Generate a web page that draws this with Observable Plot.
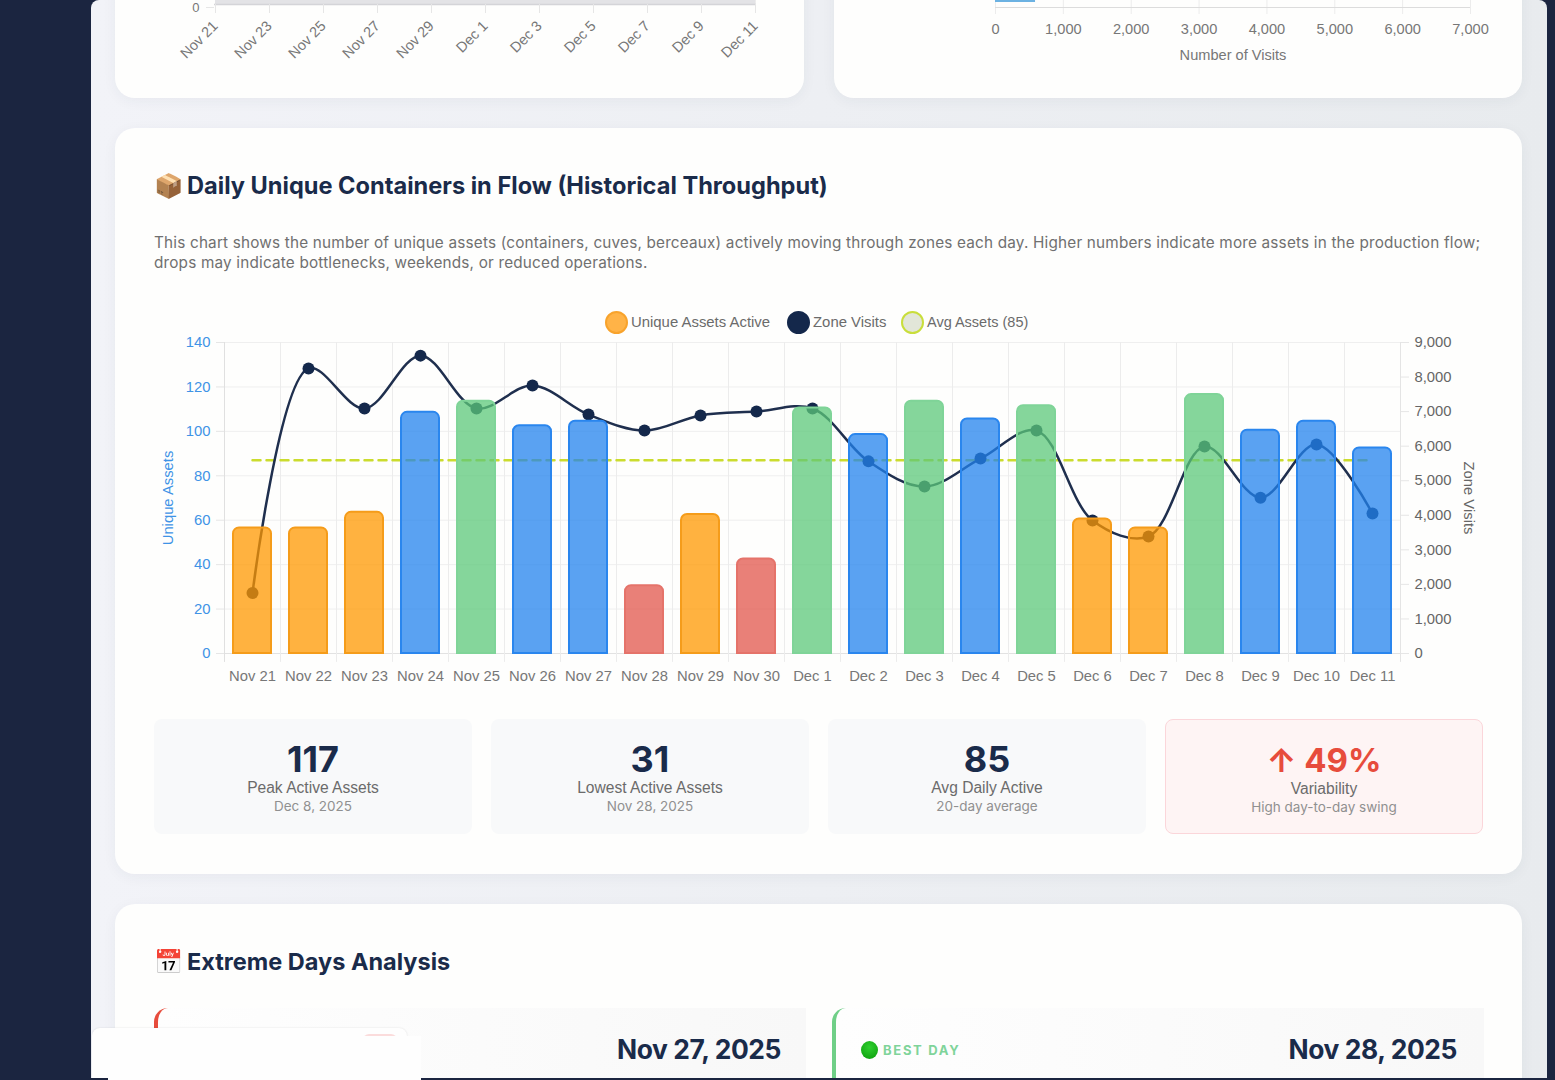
<!DOCTYPE html>
<html><head><meta charset="utf-8">
<script src="https://cdn.jsdelivr.net/npm/d3@7"></script>
<script src="https://cdn.jsdelivr.net/npm/@observablehq/plot@0.6"></script>
<style>
html,body{margin:0;padding:0;width:1555px;height:1080px;overflow:hidden;background:#1b2540;}
*{box-sizing:border-box}
.abs{position:absolute}
#panel{left:91px;top:0;width:1456px;height:1078px;background:linear-gradient(90deg,#f2f3f8,#e8ebee);border-radius:8px 8px 0 0;}
.card{position:absolute;background:#fefefd;border-radius:20px;box-shadow:0 3px 14px rgba(40,50,70,.05)}
.h{position:absolute;font-family:Inter,sans-serif;font-weight:700;color:#1a2b4a;white-space:nowrap}
.h .em{display:inline-block;width:33px}
.desc{position:absolute;left:154px;top:233px;font:15.3px/20px Inter,sans-serif;letter-spacing:.19px;color:#707070;white-space:nowrap}
.leg{position:absolute;font:14.9px/18px "Liberation Sans",sans-serif;color:#6b6b6b;white-space:nowrap;top:313px}
.sw{position:absolute;width:23px;height:23px;border-radius:50%;top:311px;border:2px solid}
.kpi{position:absolute;top:719px;height:115px;width:318px;background:#f8f9fa;border-radius:8px;text-align:center;font-family:Inter,sans-serif}
.kpi .v{position:absolute;width:100%;top:19px;font-size:36px;line-height:42px;font-weight:700;color:#1a2b4a}
.kpi .l{position:absolute;width:100%;top:60px;font:15.6px/18px "Liberation Sans",sans-serif;color:#6b6b6b}
.kpi .s{position:absolute;width:100%;top:79px;font:13.5px/16px Inter,sans-serif;color:#909090}
#alert{background:#fef4f4;border:1px solid #fbd6da}
#alert .v{color:#e74c3c;font-size:33px}
.ex{position:absolute;top:1008px;height:72px;width:652px;background:linear-gradient(90deg,#fefefe,#f8f8f8);border-radius:14px 0 0 0}
.date{position:absolute;top:1031px;font:700 26.4px/36px Inter,sans-serif;color:#1a2b4a;white-space:nowrap;letter-spacing:-.4px}
svg{overflow:visible}
</style></head><body>
<div id="panel" class="abs"></div>
<div class="card" style="left:115px;top:-60px;width:689px;height:158px"></div>
<div class="card" style="left:834px;top:-60px;width:688px;height:158px"></div>
<div class="card" style="left:115px;top:128px;width:1407px;height:746px"></div>
<div class="card" style="left:115px;top:904px;width:1407px;height:200px"></div>

<div id="topLeft" class="abs" style="left:180px;top:-36px"></div>
<div id="topRight" class="abs" style="left:960px;top:-13px"></div>

<div class="h" style="left:154px;top:171px;font-size:23.6px;line-height:30px"><span class="em">📦</span><span>Daily Unique Containers in Flow (Historical Throughput)</span></div>
<div class="desc">This chart shows the number of unique assets (containers, cuves, berceaux) actively moving through zones each day. Higher numbers indicate more assets in the production flow;<br>drops may indicate bottlenecks, weekends, or reduced operations.</div>

<div class="sw" style="left:604.5px;background:#ffb347;border-color:#f8a32c"></div><div class="leg" style="left:631px">Unique Assets Active</div>
<div class="sw" style="left:786.5px;background:#14284b;border-color:#14284b"></div><div class="leg" style="left:813px">Zone Visits</div>
<div class="sw" style="left:900.5px;background:#e2e6d8;border-color:#c9de3b"></div><div class="leg" style="left:927px;font-size:14.5px">Avg Assets (85)</div>

<div id="main" class="abs" style="left:150px;top:330px"></div>

<div class="kpi" style="left:154px"><div class="v">117</div><div class="l">Peak Active Assets</div><div class="s">Dec 8, 2025</div></div>
<div class="kpi" style="left:491px"><div class="v">31</div><div class="l">Lowest Active Assets</div><div class="s">Nov 28, 2025</div></div>
<div class="kpi" style="left:828px"><div class="v">85</div><div class="l">Avg Daily Active</div><div class="s">20-day average</div></div>
<div class="kpi" id="alert" style="left:1165px"><div class="v">↑ 49%</div><div class="l">Variability</div><div class="s">High day-to-day swing</div></div>

<div class="h" style="left:154px;top:947px;font-size:23.5px;line-height:30px"><span class="em">📅</span><span>Extreme Days Analysis</span></div>

<div class="ex" style="left:154px;border-left:4px solid #e74c3c;width:652px"></div>
<div class="ex" style="left:832px;border-left:4px solid #6fcf87"></div>
<div class="date" style="right:774px">Nov 27, 2025</div>
<div class="date" style="right:98px">Nov 28, 2025</div>
<div class="abs" style="left:861px;top:1041px;width:17px;height:18px;border-radius:50%;background:radial-gradient(circle at 50% 35%,#2fd02f,#0a9a0a)"></div>
<div class="abs" style="left:883px;top:1041px;font:700 13px/18px Inter,sans-serif;letter-spacing:1.7px;color:#7fd49a">BEST DAY</div>

<div class="abs" style="left:91px;top:1078px;width:1456px;height:2px;background:#1b2540"></div>
<div class="abs" style="left:92px;top:1028px;width:315px;height:50px;background:#fefefe;border-radius:8px 8px 0 0;box-shadow:0 0 2px rgba(0,0,0,.12)"></div>
<div class="abs" style="left:363px;top:1034px;width:34px;height:6px;background:#fbdcdc;border-radius:6px 6px 0 0"></div>
<div class="abs" style="left:108px;top:1036px;width:313px;height:44px;background:#fefefe"></div>

<script>
const days = ["Nov 21","Nov 22","Nov 23","Nov 24","Nov 25","Nov 26","Nov 27","Nov 28","Nov 29","Nov 30","Dec 1","Dec 2","Dec 3","Dec 4","Dec 5","Dec 6","Dec 7","Dec 8","Dec 9","Dec 10","Dec 11"];
const assets = [57,57,64,109,114,103,105,31,63,43,111,99,114,106,112,61,57,117,101,105,93];
const visits = [1750,8250,7090,8620,7090,7755,6915,6450,6890,7000,7090,5560,4830,5640,6450,3850,3385,5990,4510,6050,4050];
const status = ["low","low","low","mid","high","mid","mid","crit","low","crit","high","mid","high","mid","high","low","low","high","mid","mid","mid"];
const avgLine = 87;
const fills = {low:"#ff9800",mid:"#2383ee",high:"#5cc87a",crit:"#e1564b"};
const strokes = {low:"#f59c1a",mid:"#2a86ee",high:"#7fd498",crit:"#e5736a"};
const assetTicks = [0,20,40,60,80,100,120,140];
const visitTicks = [0,1000,2000,3000,4000,5000,6000,7000,8000,9000];
const assetMax = 140, visitMax = 9000;
const toAssets = v => v * assetMax / visitMax;
const rows = days.map((d,i)=>({day:d,assets:assets[i],visits:visits[i],status:status[i]}));
const stepPx = 56;

const main = Plot.plot({
  width:1340,height:360,marginLeft:74,marginRight:90,marginTop:12,marginBottom:37,
  style:{background:"transparent",fontFamily:"'Liberation Sans',sans-serif",fontSize:"14.8px",overflow:"visible"},
  x:{domain:days,padding:0,label:null,axis:null},
  y:{domain:[0,assetMax],label:null,axis:null},
  color:{type:"identity"},
  marks:[
    Plot.ruleY(assetTicks,{stroke:"#efefef",strokeWidth:1}),
    Plot.ruleY([0],{stroke:"#e2e2e2",strokeWidth:1}),
    Plot.ruleX(days,{x:d=>d,dx:-stepPx/2,y1:-4,y2:assetMax,stroke:"#ececec"}),
    Plot.ruleX(days.slice(-1),{x:d=>d,dx:stepPx/2,y1:-4,y2:assetMax,stroke:"#e4e4e4"}),
    Plot.ruleX(days.slice(0,1),{x:d=>d,dx:-stepPx/2,y1:-4,y2:assetMax,stroke:"#e0e0e0"}),
    Plot.line(rows,{x:"day",y:()=>avgLine,stroke:"#cbdc2e",strokeWidth:2.5,strokeDasharray:"8,6"}),
    Plot.line(rows,{x:"day",y:d=>toAssets(d.visits),curve:"catmull-rom",stroke:"#1f2f4e",strokeWidth:2.5}),
    Plot.dot(rows,{x:"day",y:d=>toAssets(d.visits),r:6,fill:"#14284b",stroke:"none"}),
    Plot.barY(rows,{x:"day",y:"assets",insetLeft:9,insetRight:9,insetTop:1,ry1:6,
      fill:d=>fills[d.status],fillOpacity:.75,stroke:d=>strokes[d.status],strokeWidth:2}),
    Plot.axisX({anchor:"bottom",tickSize:0,tickPadding:17,fill:"#777",label:null}),
    Plot.axisY(assetTicks,{anchor:"left",tickSize:8,tickPadding:6,stroke:"#e6e6e6",fill:"#3f93e6",label:"Unique Assets",labelAnchor:"center",labelArrow:"none",labelOffset:62}),
    Plot.axisY(visitTicks.map(toAssets),{anchor:"right",tickSize:8,tickPadding:6,stroke:"#e6e6e6",fill:"#666",
      tickFormat:v=>d3.format(",")(Math.round(v*visitMax/assetMax)),label:null}),
    Plot.text(["Zone Visits"],{frameAnchor:"right",rotate:90,dx:68,textAnchor:"middle",fill:"#666"})
  ]
});
document.getElementById("main").append(main);

/* cropped upper-left card */
const everyOther = days.filter((_,i)=>i%2===0);
const baseValue = 1;
const tl = Plot.plot({
  width:580,height:105,marginLeft:34,marginRight:4,marginTop:0,marginBottom:65,
  style:{background:"transparent",fontFamily:"'Liberation Sans',sans-serif",fontSize:"14.5px",overflow:"visible"},
  x:{type:"point",domain:days,padding:0,label:null,axis:null},
  y:{domain:[0,8],label:null,axis:null},
  marks:[
    Plot.ruleX(everyOther,{x:d=>d,y1:-1.8,y2:8,stroke:"#ececec"}),
    Plot.areaY(days,{x:d=>d,y:()=>baseValue,fill:"#e3e3e6"}),
    Plot.ruleY([0],{stroke:"#d4d4d8",strokeWidth:1.5}),
    Plot.axisX(everyOther,{anchor:"bottom",tickRotate:-45,tickSize:9,tickPadding:10,stroke:"#e6e6e6",fill:"#777",label:null}),
    Plot.axisY([0],{anchor:"left",tickSize:8,tickPadding:7,stroke:"#e6e6e6",fill:"#777",label:null,fontSize:13,dy:3})
  ]
});
document.getElementById("topLeft").append(tl);

/* cropped upper-right card */
const visitAxis = [0,1000,2000,3000,4000,5000,6000,7000];
const firstBar = 590;
const tr = Plot.plot({
  width:540,height:80,marginLeft:35,marginRight:30,marginTop:0,marginBottom:60,
  style:{background:"transparent",fontFamily:"'Liberation Sans',sans-serif",fontSize:"14.6px",overflow:"visible"},
  x:{domain:[0,7000],label:null,axis:null},
  y:{domain:[0,1],label:null,axis:null},
  marks:[
    Plot.ruleX(visitAxis,{y1:-.35,y2:1,stroke:"#ececec"}),
    Plot.rectX([firstBar],{x1:0,x2:d=>d,y1:.25,y2:1,fill:"#6cb2e2"}),
    Plot.ruleY([0],{stroke:"#dcdcdc"}),
    Plot.axisX(visitAxis,{anchor:"bottom",tickSize:0,tickPadding:16,fill:"#777",tickFormat:d3.format(","),label:"Number of Visits",labelAnchor:"center",labelArrow:"none",labelOffset:52})
  ]
});
document.getElementById("topRight").append(tr);
</script>
</body></html>
